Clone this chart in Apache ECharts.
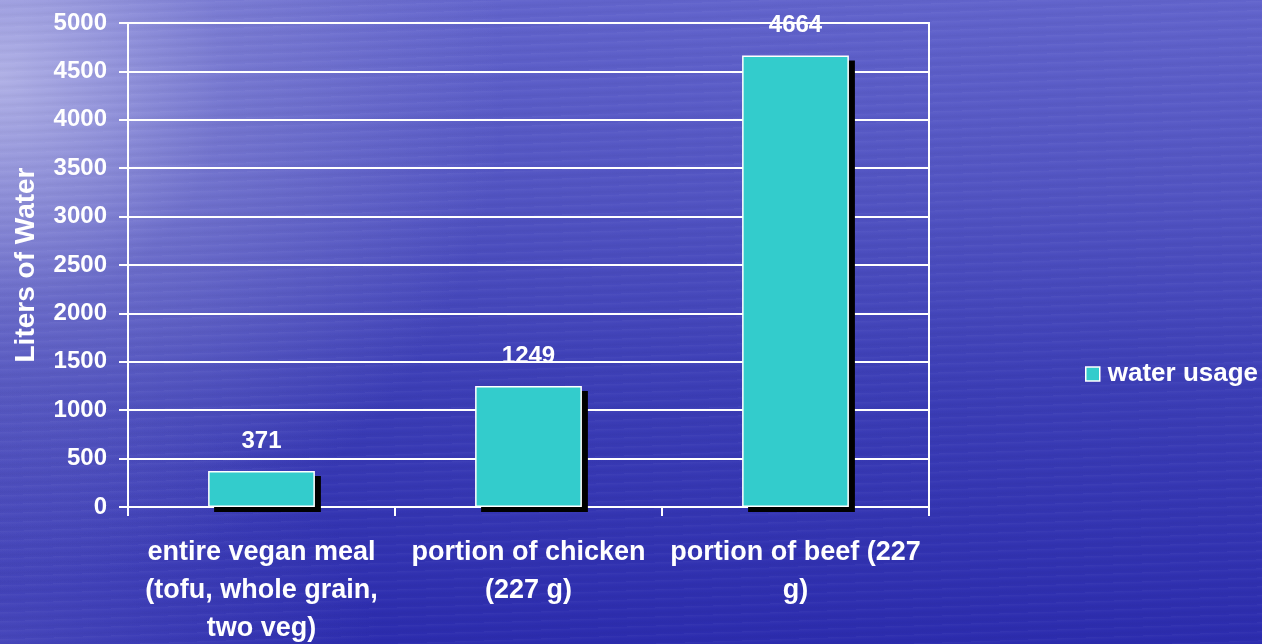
<!DOCTYPE html>
<html>
<head>
<meta charset="utf-8">
<script src="https://cdn.jsdelivr.net/npm/echarts@6/dist/echarts.min.js"></script>
<style>
html,body{margin:0;padding:0;width:1262px;height:644px;overflow:hidden;}
body{
  background:
    repeating-linear-gradient(178deg, rgba(255,255,255,0.035) 0px, rgba(255,255,255,0) 3px, rgba(0,0,40,0.03) 6px, rgba(255,255,255,0) 9px),
    radial-gradient(ellipse 40% 80% at 0% 12%, rgba(205,205,240,0.75) 0%, rgba(170,170,225,0.35) 45%, rgba(150,150,220,0) 100%),
    radial-gradient(ellipse 30% 40% at 0% 100%, rgba(120,120,210,0.35) 0%, rgba(120,120,210,0) 100%),
    linear-gradient(180deg, #6264cc 0%, #5254c2 30%, #3c3eb6 60%, #2c2cae 100%);
}
#chart{position:absolute;left:0;top:0;width:1262px;height:644px;}
</style>
</head>
<body>
<div id="chart"></div>
<script>
var categories = ["entire vegan meal\n(tofu, whole grain,\ntwo veg)", "portion of chicken\n(227 g)", "portion of beef (227\ng)"];
var waterUsage = [371, 1249, 4664];
var seriesName = "water usage";
var yAxisName = "Liters of Water";

var font = "'Liberation Sans', Arial, sans-serif";
var chart = echarts.init(document.getElementById('chart'));
chart.setOption({
  backgroundColor: 'transparent',
  animation: false,
  textStyle: {fontFamily: font},
  grid: {left: 128, width: 801, top: 23, height: 484, outerBoundsMode: 'none', containLabel: false,
         show: true, borderColor: '#fff', borderWidth: 2, backgroundColor: 'transparent'},
  legend: {
    data: [seriesName], orient: 'vertical', left: 1080, top: 356,
    icon: 'rect', itemWidth: 14, itemHeight: 14,
    itemStyle: {borderColor: '#fff', borderWidth: 1.5},
    textStyle: {color: '#fff', fontSize: 26, fontWeight: 'bold', fontFamily: font, padding: [0, 0, 0, 3]}
  },
  xAxis: {
    type: 'category', data: categories,
    axisLine: {lineStyle: {color: '#fff', width: 2}},
    axisTick: {show: true, length: 9, lineStyle: {color: '#fff', width: 2}, alignWithLabel: false},
    axisLabel: {color: '#fff', fontSize: 27, fontWeight: 'bold', margin: 27, lineHeight: 38, interval: 0, fontFamily: font}
  },
  yAxis: {
    type: 'value', min: 0, max: 5000, interval: 500,
    name: yAxisName, nameLocation: 'middle', nameGap: 88, nameRotate: 90,
    nameTextStyle: {color: '#fff', fontSize: 28, fontWeight: 'bold', fontFamily: font},
    axisLine: {show: true, lineStyle: {color: '#fff', width: 2}},
    axisTick: {show: true, length: 9, lineStyle: {color: '#fff', width: 2}},
    axisLabel: {color: '#fff', fontSize: 24, fontWeight: 'bold', margin: 21, fontFamily: font, formatter: function (v) { return String(v); }},
    splitLine: {show: true, lineStyle: {color: '#fff', width: 2}}
  },
  series: [{
    name: 'shadow', type: 'custom', z: 1, silent: true,
    data: waterUsage.map(function (v, i) { return [i, v]; }),
    renderItem: function (params, api) {
      var top = api.coord([api.value(0), api.value(1)]);
      var base = api.coord([api.value(0), 0]);
      var w = api.size([1, 0])[0] * 0.4;
      return {type: 'rect', shape: {x: top[0] - w / 2 + 6, y: top[1] + 5, width: w, height: base[1] - top[1]},
              style: {fill: '#000'}};
    }
  }, {
    name: seriesName, type: 'bar', data: waterUsage, barWidth: '40%', z: 3,
    itemStyle: {color: '#33CCCC', borderColor: '#fff', borderWidth: 1.5},
    label: {show: true, position: 'top', distance: 18, color: '#fff', fontSize: 24, fontWeight: 'bold', fontFamily: font}
  }]
});
</script>
</body>
</html>
